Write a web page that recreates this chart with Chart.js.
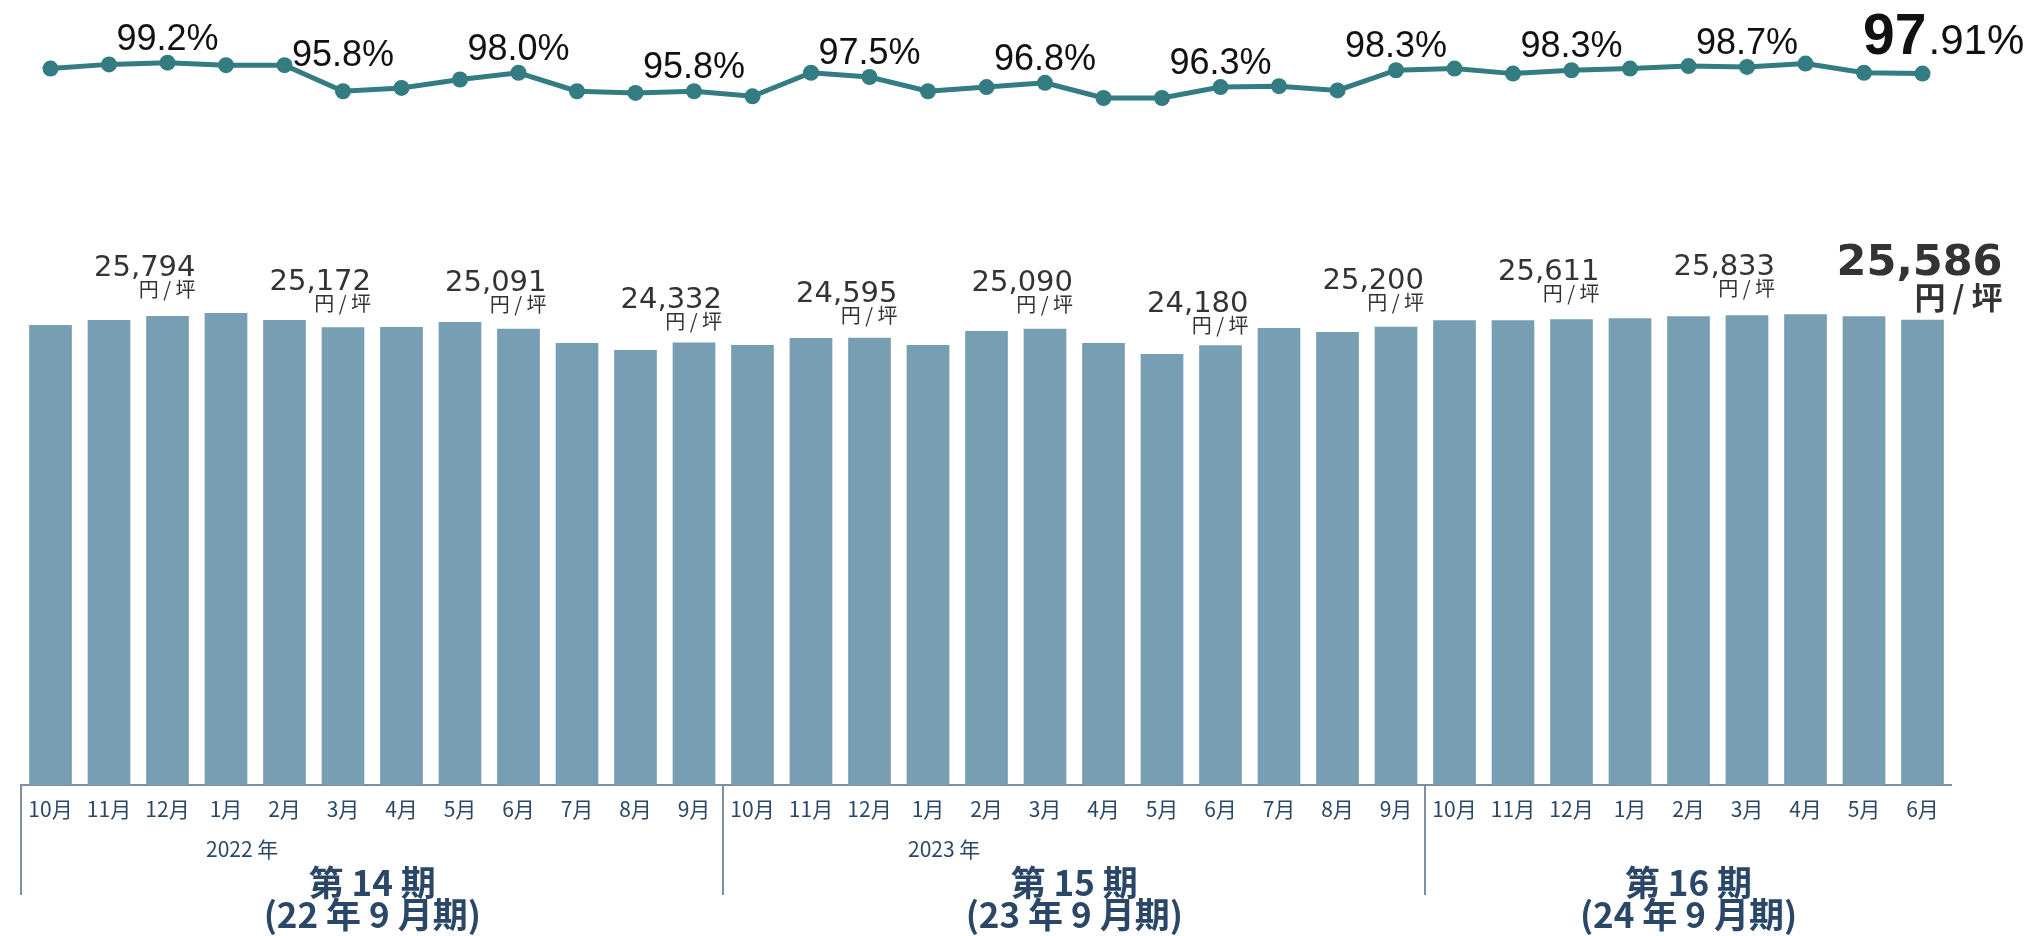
<!DOCTYPE html>
<html><head><meta charset="utf-8">
<script src="https://cdn.jsdelivr.net/npm/chart.js@4.4.1/dist/chart.umd.min.js"></script>
<style>html,body{margin:0;padding:0;background:#fff;overflow:hidden}#wrap{width:2037px;height:936px;position:relative}canvas{display:block}</style>
</head><body><div id="wrap"><canvas id="c" width="2037" height="936"></canvas></div>
<script>
// ---- data ----
const months = ['10月','11月','12月','1月','2月','3月','4月','5月','6月','7月','8月','9月',
                '10月','11月','12月','1月','2月','3月','4月','5月','6月','7月','8月','9月',
                '10月','11月','12月','1月','2月','3月','4月','5月','6月'];
const rentPerTsubo = [25300,25570,25794,25960,25570,25172,25190,25460,25091,24310,23920,24332,
                      24200,24580,24595,24200,24970,25090,24310,23700,24180,25130,24910,25200,
                      25560,25560,25611,25670,25780,25833,25890,25780,25586];
const occupancyRate = [98.5,99.0,99.2,98.9,98.9,95.8,96.2,97.2,98.0,95.8,95.6,95.8,
                       95.2,98.0,97.5,95.8,96.3,96.8,95.0,95.0,96.3,96.4,95.9,98.3,
                       98.5,97.9,98.3,98.5,98.8,98.7,99.1,98.0,97.91];
const labelledIndices = [2,5,8,11,14,17,20,23,26,29,32];
const yearLabelIndex = [3,15];
const yearLabelText = ['2022 年','2023 年'];
const periodStart = [0,12,24];
const periodEnd = [11,23,32];
const periodTitle = ['第 14 期','第 15 期','第 16 期'];
const periodSub = ['(22 年 9 月期)','(23 年 9 月期)','(24 年 9 月期)'];
const rentUnit = '円 / 坪';

// ---- style ----
const BAR_COLOR = '#789eb3';
const LINE_COLOR = '#327c82';
const AXIS_COLOR = '#7f8ea0';
const NAVY = '#2b4767';
const JP = '"Noto Sans CJK JP", "Noto Sans", sans-serif';

function lineMinY(pts, x0, x1) {
  let m = Infinity;
  for (let k = 0; k < pts.length - 1; k++) {
    const a = pts[k], b = pts[k + 1];
    const lo = Math.max(x0, a.x), hi = Math.min(x1, b.x);
    if (lo > hi) continue;
    const f = (xx) => a.y + (b.y - a.y) * (xx - a.x) / (b.x - a.x);
    m = Math.min(m, f(lo), f(hi));
  }
  return m;
}

const labelPlugin = {
  id: 'labelPlugin',
  afterDatasetsDraw(chart) {
    const ctx = chart.ctx;
    const xs = chart.scales.x, yl = chart.scales.yLbl;
    const pts = chart.getDatasetMeta(1).data;
    const last = months.length - 1;
    ctx.save();
    ctx.textBaseline = 'alphabetic';
    // occupancy labels
    ctx.fillStyle = '#111';
    labelledIndices.forEach(i => {
      const p = pts[i];
      if (i === last) {
        const [ip, fp] = occupancyRate[i].toFixed(2).split('.');
        ctx.font = 'bold 57px "Liberation Sans"';
        ctx.textAlign = 'right';
        ctx.fillText(ip, p.x + 4, p.y - 20);
        ctx.font = '42px "Liberation Sans"';
        ctx.textAlign = 'left';
        ctx.fillText('.' + fp + '%', p.x + 6, p.y - 20);
        return;
      }
      const txt = occupancyRate[i].toFixed(1) + '%';
      ctx.font = '36px "Liberation Sans"';
      const w = ctx.measureText(txt).width;
      let base = p.y - 13;
      const minY = lineMinY(pts, p.x - w / 2, p.x + w / 2);
      if (base > minY - 3) base = minY - 3;
      ctx.textAlign = 'center';
      ctx.fillText(txt, p.x, base);
    });
    // rent labels
    ctx.fillStyle = '#333';
    ctx.textAlign = 'right';
    labelledIndices.forEach(i => {
      const cx = xs.getPixelForValue(i);
      const base = yl.getPixelForValue(rentPerTsubo[i]);
      const txt = rentPerTsubo[i].toLocaleString('en-US');
      if (i === last) {
        ctx.font = 'bold 43px "DejaVu Sans"';
        ctx.fillText(txt, cx + 80, base - 7);
        ctx.font = 'bold 31px ' + JP;
        ctx.fillText(rentUnit, cx + 80, base + 27);
      } else {
        ctx.font = '29px "DejaVu Sans"';
        ctx.fillText(txt, cx + 28, base - 2);
        ctx.font = '20px ' + JP;
        ctx.fillText(rentUnit, cx + 28, base + 19);
      }
    });
    ctx.restore();
  },
  afterDraw(chart) {
    const ctx = chart.ctx;
    const xs = chart.scales.x;
    const bottom = chart.chartArea.bottom;
    ctx.save();
    ctx.strokeStyle = AXIS_COLOR;
    ctx.lineWidth = 2;
    periodStart.forEach(s => {
      const px = Math.round(xs.getPixelForValue(s - 0.5));
      ctx.beginPath();
      ctx.moveTo(px, bottom);
      ctx.lineTo(px, bottom + 110);
      ctx.stroke();
    });
    ctx.fillStyle = NAVY;
    ctx.textBaseline = 'alphabetic';
    ctx.font = '21px ' + JP;
    ctx.textAlign = 'left';
    yearLabelIndex.forEach((idx, k) => {
      ctx.fillText(yearLabelText[k], xs.getPixelForValue(idx) - 20, bottom + 72);
    });
    ctx.textAlign = 'center';
    ctx.font = 'bold 35px ' + JP;
    periodStart.forEach((s, k) => {
      const cx = (xs.getPixelForValue(s) + xs.getPixelForValue(periodEnd[k])) / 2;
      ctx.fillText(periodTitle[k], cx, bottom + 111);
      ctx.fillText(periodSub[k], cx, bottom + 143);
    });
    ctx.restore();
  }
};

function build() {
  const ctx = document.getElementById('c').getContext('2d');
  return new Chart(ctx, {
    data: {
      labels: months,
      datasets: [
        { type: 'bar', data: rentPerTsubo, yAxisID: 'y', backgroundColor: BAR_COLOR,
          barPercentage: 0.73, categoryPercentage: 1.0, order: 2 },
        { type: 'line', data: occupancyRate, yAxisID: 'yLine', borderColor: LINE_COLOR,
          backgroundColor: LINE_COLOR, borderWidth: 5, pointRadius: 8, pointBorderWidth: 0,
          pointBackgroundColor: LINE_COLOR, tension: 0, order: 1, clip: false }
      ]
    },
    options: {
      responsive: false,
      animation: false,
      devicePixelRatio: 1,
      layout: { autoPadding: false, padding: { left: 21.25, right: 85.25, top: 0, bottom: 0 } },
      plugins: { legend: { display: false }, tooltip: { enabled: false } },
      scales: {
        x: {
          type: 'category',
          offset: true,
          grid: { display: false, drawTicks: false },
          border: { display: true, color: AXIS_COLOR, width: 2 },
          ticks: { color: NAVY, font: { family: JP, size: 21 }, padding: 11,
                   maxRotation: 0, minRotation: 0, autoSkip: false },
          afterFit: (s) => { s.height = 151; }
        },
        y: { display: false, min: 0, max: 43172 },
        yLine: { display: false, min: 13.212, max: 106.664 },
        yLbl: { display: false, min: 3104, max: 38211 }
      }
    },
    plugins: [labelPlugin]
  });
}
let chart = build();
if (document.fonts && document.fonts.ready) {
  document.fonts.ready.then(() => { chart.update(); });
}
</script>
</body></html>
